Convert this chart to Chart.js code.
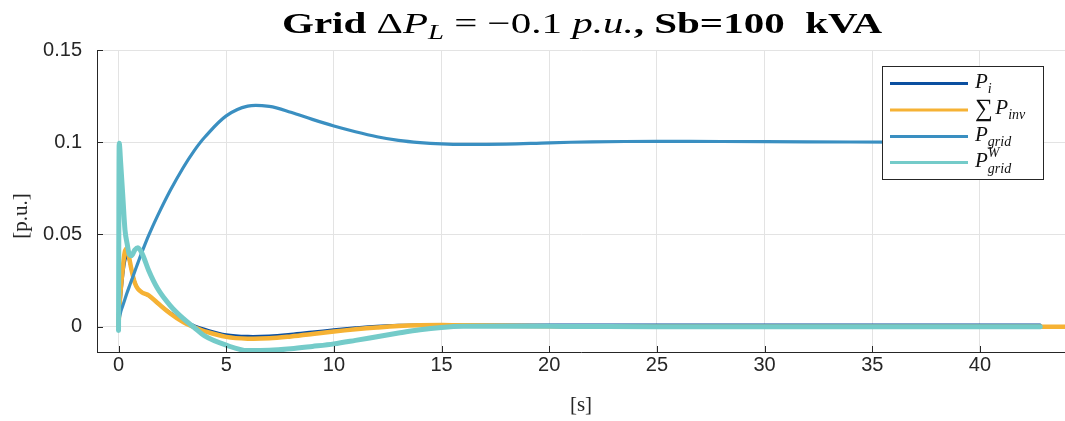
<!DOCTYPE html>
<html>
<head>
<meta charset="utf-8">
<script src="https://cdn.jsdelivr.net/npm/chart.js@4.4.1/dist/chart.umd.min.js"></script>
<style>
  html, body { margin: 0; padding: 0; background: #ffffff; }
  #wrap { width: 1065px; height: 421px; position: relative; }
</style>
</head>
<body>
<div id="wrap"><canvas id="chart" width="1065" height="421"></canvas></div>
<script>
// Simulation time [s]
const time = [0, 0.03, 0.1, 0.2, 0.3, 0.4, 0.5, 0.6, 0.75, 0.9, 1.1, 1.4, 1.8, 2.4, 3.0, 3.5, 4.0, 5.0, 6.0, 7.0, 8.0, 9.0, 10, 11, 12, 13, 14, 15, 16, 18, 20, 22, 25, 28, 32, 36, 40, 42.8, 44];

// P_i [p.u.]
const pI = [0, 0.006, 0.016, 0.028, 0.036, 0.039, 0.036, 0.031, 0.0245, 0.0205, 0.0185, 0.0168, 0.0128, 0.0076, 0.0031, 0.0006, -0.0014, -0.0043, -0.0052, -0.0050, -0.0041, -0.0029, -0.0017, -0.0006, 0.0003, 0.0008, 0.0010, 0.0011, 0.0010, 0.0010, 0.0009, 0.0009, 0.0009, 0.0009, 0.0009, 0.0009, 0.0009, 0.0009, null];

// Sum of inverter powers [p.u.]
const pInvSum = [0, 0.008, 0.020, 0.032, 0.041, 0.0425, 0.037, 0.031, 0.024, 0.0205, 0.0185, 0.0170, 0.0130, 0.0072, 0.0025, -0.0002, -0.0025, -0.0055, -0.0065, -0.0063, -0.0053, -0.0040, -0.0026, -0.0014, -0.0004, 0.0004, 0.0008, 0.0009, 0.0008, 0.0005, 0.0003, 0.0001, 0, 0, 0, 0, 0, 0, 0];

// P_grid [p.u.]
const pGrid = [0, 0.004, 0.008, 0.0115, 0.015, 0.0185, 0.0218, 0.025, 0.0298, 0.0346, 0.0408, 0.0495, 0.0598, 0.0738, 0.0862, 0.0952, 0.1027, 0.1143, 0.1196, 0.1194, 0.1163, 0.1124, 0.1088, 0.1057, 0.1030, 0.1010, 0.0998, 0.0991, 0.0988, 0.0990, 0.0997, 0.1002, 0.1005, 0.1004, 0.1002, 0.1001, 0.1000, 0.1000, null];

// P_grid^W [p.u.]
const pGridW = [-0.002, 0.0995, 0.0886, 0.0705, 0.0524, 0.045, 0.0392, 0.0385, 0.0415, 0.0428, 0.0395, 0.0305, 0.021, 0.0115, 0.0045, -0.0003, -0.0050, -0.0100, -0.0129, -0.0128, -0.0120, -0.0107, -0.0093, -0.0074, -0.0054, -0.0034, -0.0016, -0.0004, 0.0002, 0.0003, 0.0002, 0.0001, 0, 0, 0, 0, 0, 0, null];

const xTicks = [0, 5, 10, 15, 20, 25, 30, 35, 40];
const yTicks = [0, 0.05, 0.1, 0.15];

const colors = {
  pI: '#0b4fa0',
  pInvSum: '#f6b234',
  pGrid: '#3a8fc1',
  pGridW: '#74cbc9'
};

const SERIF = '"Liberation Serif", "DejaVu Serif", serif';
const SANS = '"Liberation Sans", Arial, sans-serif';
const INK = '#262626';

function pts(arr) { return time.map((t, i) => ({ x: t, y: arr[i] })); }

// Title with mixed roman / math-italic runs
const titleRuns = [
  { t: 'Grid ', f: 'bold 30px ' + SERIF },
  { t: '\u0394', f: '30px ' + SERIF },
  { t: 'P', f: 'italic 30px ' + SERIF },
  { t: 'L', f: 'italic 21px ' + SERIF, dy: 6 },
  { t: ' = \u22120.1 ', f: '30px ' + SERIF },
  { t: 'p.u.', f: 'italic 30px ' + SERIF },
  { t: ', Sb=100  kVA', f: 'bold 30px ' + SERIF }
];

// Legend entries: runs of text drawn after the line sample
const legendItems = [
  { color: colors.pI, runs: [{ t: 'P', f: 'italic 21px ' + SERIF }, { t: 'i', f: 'italic 14px ' + SERIF, dy: 5 }] },
  { color: colors.pInvSum, runs: [{ t: '\u2211', f: '25px ' + SERIF, dy: 2 }, { t: ' ', f: '10px ' + SERIF }, { t: 'P', f: 'italic 21px ' + SERIF }, { t: 'inv', f: 'italic 14px ' + SERIF, dy: 5 }] },
  { color: colors.pGrid, runs: [{ t: 'P', f: 'italic 21px ' + SERIF }, { t: 'grid', f: 'italic 14px ' + SERIF, dy: 5 }] },
  { color: colors.pGridW, runs: [{ t: 'P', f: 'italic 21px ' + SERIF }, { t: 'W', f: 'italic 14px ' + SERIF, dy: -10, sup: true }, { t: 'grid', f: 'italic 14px ' + SERIF, dy: 6, under: true }] }
];

function drawRuns(ctx, runs, x, y) {
  let cx = x, supStart = null;
  runs.forEach(r => {
    ctx.font = r.f;
    let rx = cx;
    if (r.under && supStart !== null) rx = supStart;
    ctx.fillText(r.t, rx, y + (r.dy || 0));
    const w = ctx.measureText(r.t).width;
    if (r.sup) { supStart = cx; cx += w; }
    else if (r.under) { cx = Math.max(cx, rx + w); }
    else cx += w;
  });
  return cx - x;
}

function runsWidth(ctx, runs) {
  let w = 0;
  runs.forEach(r => { ctx.font = r.f; w += ctx.measureText(r.t).width; });
  return w;
}

const decorPlugin = {
  id: 'decor',
  afterDraw(chart) {
    const ctx = chart.ctx;
    const xs = chart.scales.x, ys = chart.scales.y;
    const area = chart.chartArea;
    ctx.save();
    // inward tick marks
    ctx.strokeStyle = INK;
    ctx.lineWidth = 1;
    ctx.beginPath();
    xTicks.forEach(v => {
      const px = Math.round(xs.getPixelForValue(v)) + 0.5;
      ctx.moveTo(px, area.bottom); ctx.lineTo(px, area.bottom - 6);
    });
    yTicks.forEach(v => {
      const py = Math.round(ys.getPixelForValue(v)) + 0.5;
      ctx.moveTo(area.left, py); ctx.lineTo(area.left + 6, py);
    });
    ctx.stroke();

    // title, set wide like a display math face
    ctx.fillStyle = '#000000';
    ctx.textBaseline = 'alphabetic';
    ctx.textAlign = 'left';
    const tw = runsWidth(ctx, titleRuns);
    const targetW = 600;
    ctx.save();
    ctx.translate(582 - targetW / 2, 33);
    ctx.scale(targetW / tw, 1);
    drawRuns(ctx, titleRuns, 0, 0);
    ctx.restore();

    // axis titles
    ctx.fillStyle = INK;
    ctx.font = '21px ' + SERIF;
    ctx.textAlign = 'center';
    ctx.textBaseline = 'middle';
    ctx.fillText('[s]', (area.left + area.right) / 2, 405);
    ctx.save();
    ctx.translate(21, 216);
    ctx.rotate(-Math.PI / 2);
    ctx.fillText('[p.u.]', 0, 0);
    ctx.restore();

    // legend box
    const bx = 882.5, by = 66.5, bw = 161, bh = 113;
    ctx.fillStyle = '#ffffff';
    ctx.fillRect(bx, by, bw, bh);
    ctx.strokeStyle = INK;
    ctx.lineWidth = 1;
    ctx.strokeRect(bx, by, bw, bh);
    const rowY = [83.5, 110, 136.5, 162.5];
    legendItems.forEach((it, i) => {
      ctx.strokeStyle = it.color;
      ctx.lineWidth = 3;
      ctx.beginPath();
      ctx.moveTo(890, rowY[i]); ctx.lineTo(968, rowY[i]);
      ctx.stroke();
      ctx.fillStyle = '#111111';
      ctx.textAlign = 'left';
      ctx.textBaseline = 'alphabetic';
      drawRuns(ctx, it.runs, 975, rowY[i] + 4);
    });
    ctx.restore();
  }
};

const ds = (label, arr, color, width, order, mono) => ({
  label, data: pts(arr), borderColor: color, backgroundColor: color,
  borderWidth: width, pointRadius: 0, fill: false, order,
  tension: 0.35,
  cubicInterpolationMode: mono ? 'monotone' : 'default', spanGaps: false,
  borderCapStyle: 'round', borderJoinStyle: 'round'
});

new Chart(document.getElementById('chart'), {
  type: 'line',
  data: {
    datasets: [
      ds('P_grid^W', pGridW, colors.pGridW, 5, 0, true),
      ds('P_grid', pGrid, colors.pGrid, 3.2, 1, false),
      ds('Sum P_inv', pInvSum, colors.pInvSum, 4.5, 2, false),
      ds('P_i', pI, colors.pI, 3, 3, false)
    ]
  },
  options: {
    responsive: false,
    animation: false,
    devicePixelRatio: 1,
    layout: { padding: { top: 50, left: 0, right: 0, bottom: 0 } },
    plugins: { legend: { display: false }, tooltip: { enabled: false }, title: { display: false } },
    scales: {
      x: {
        type: 'linear', min: -1, max: 43.95,
        afterFit(s) { s.height = 69; },
        afterBuildTicks(s) { s.ticks = xTicks.map(v => ({ value: v })); },
        grid: { color: '#e3e3e3', lineWidth: 1, drawTicks: false },
        border: { display: true, color: INK, width: 1 },
        ticks: { font: { family: SANS, size: 20 }, color: INK, padding: 1, maxRotation: 0,
                 callback: v => String(v) }
      },
      y: {
        type: 'linear', min: -0.0137, max: 0.15,
        afterFit(s) { s.width = 97; },
        afterBuildTicks(s) { s.ticks = yTicks.map(v => ({ value: v })); },
        grid: { color: '#e3e3e3', lineWidth: 1, drawTicks: false },
        border: { display: true, color: INK, width: 1 },
        ticks: { font: { family: SANS, size: 20 }, color: INK, padding: 15,
                 callback: v => String(+v.toFixed(3)) }
      }
    }
  },
  plugins: [decorPlugin]
});
</script>
</body>
</html>
